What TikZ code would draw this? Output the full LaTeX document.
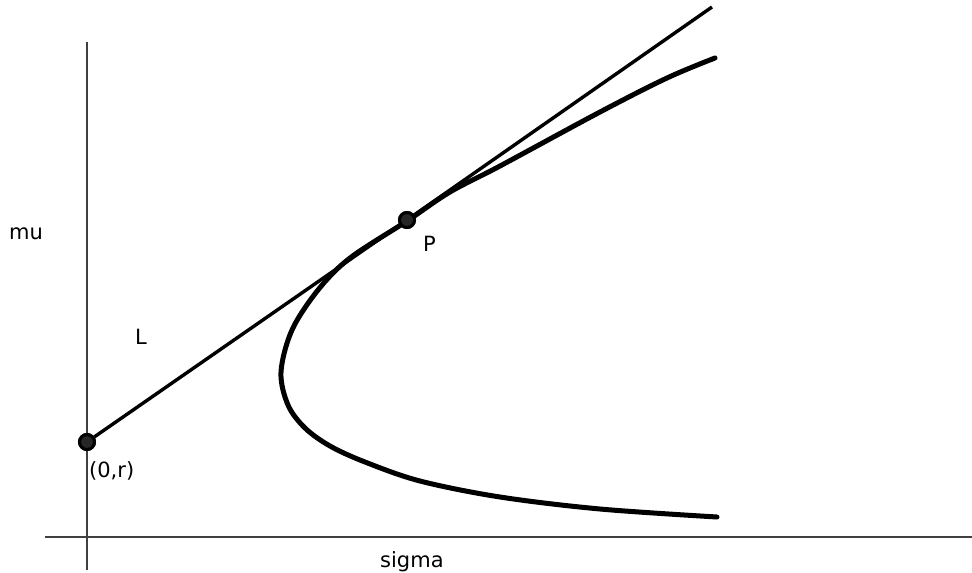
\documentclass[tikz,border=0pt]{standalone}
\usepackage{fontspec}
\setmainfont{DejaVu Sans}
\begin{document}
\begin{tikzpicture}[x=1pt,y=-1pt,
  axis/.style={line width=1.4pt, black!75},
  tline/.style={line width=3.4pt, black},
  frontier/.style={line width=5pt, black, line cap=round},
  dot/.style={circle, draw=black, line width=3pt, fill=black!85, minimum size=15pt, inner sep=0pt},
  lbl/.style={font=\fontsize{21}{24}\selectfont, anchor=base west, inner sep=0pt}]
\useasboundingbox (0,0) rectangle (972,573);
% axes
\coordinate (ytop) at (87,42);
\coordinate (ybot) at (87,570);
\coordinate (xl) at (45,537);
\coordinate (xr) at (972,537);
\draw[axis] (ytop) -- (ybot);
\draw[axis] (xl) -- (xr);
% frontier
\draw[frontier] plot[smooth, tension=0.55] coordinates {(715,58) (667,78) (600,112) (500,166) (450,192) (407,221) (350,258) (318,290) (292,330) (281,372) (288,405) (305,428) (330,446) (365,462) (420,481) (500,497) (600,509) (717,517)};
% tangent line
\coordinate (Lend) at (712,7);
\node[dot] (r) at (87,442) {};
\node[dot] (P) at (407,220) {};
\draw[tline] (r) -- (P);
\draw[tline] (P) -- (Lend);
\node[dot] at (87,442) {};
\node[dot] at (407,220) {};
% labels
\node[lbl] (mu) at (9,239) {mu};
\node[lbl] (Llab) at (135,344) {L};
\node[lbl] (Plab) at (423,251) {P};
\node[lbl] (r0) at (89,477) {(0,r)};
\node[lbl] (sig) at (380,567) {sigma};
\end{tikzpicture}
\end{document}
